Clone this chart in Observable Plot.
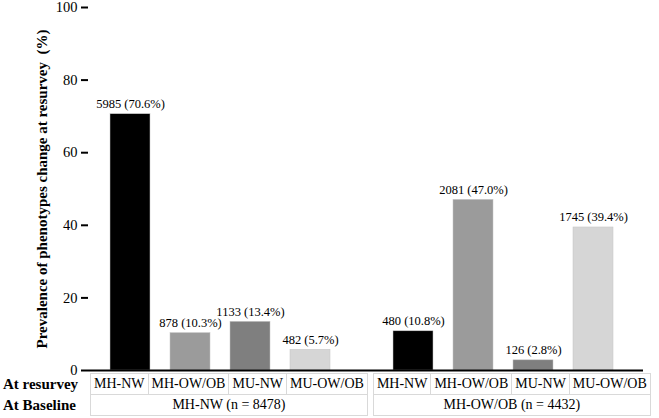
<!DOCTYPE html>
<html>
<head>
<meta charset="utf-8">
<script src="https://cdn.jsdelivr.net/npm/d3@7"></script>
<script src="https://cdn.jsdelivr.net/npm/@observablehq/plot@0.6"></script>
<style>
  html, body { margin: 0; padding: 0; background: #fff; }
  body { width: 659px; height: 418px; overflow: hidden; font-family: "Liberation Serif", "Times New Roman", serif; }
  #chart svg { display: block; }
  #chart svg text { font-family: "Liberation Serif", "Times New Roman", serif; }
  #chart svg [aria-label="y-axis label"] text { font-weight: bold; font-size: 15px; }
  table.tbl { border-collapse: collapse; margin-top: -5px; position: relative; font-family: "Liberation Serif", "Times New Roman", serif; color: #000; }
  table.tbl td { height: 20px; padding: 0 3px; font-size: 14px; text-align: center; border: 1px solid #d9d9d9; white-space: nowrap; line-height: 20px; }
  table.tbl td.lab { border: none; text-align: left; font-weight: bold; font-size: 15px; padding: 0 0 0 3px; width: 87px; }
  table.tbl td.gap { border: none; padding: 0; width: 5px; }
</style>
</head>
<body>
<div id="chart"></div>
<script>
// ---- data ----
const resurveyCats = ["MH-NW", "MH-OW/OB", "MU-NW", "MU-OW/OB"];
const baselineGroups = ["MH-NW", "MH-OW/OB"];
const baselineN = [8478, 4432];
const countsGroup1 = [5985, 878, 1133, 482];
const pctsGroup1 = [70.6, 10.3, 13.4, 5.7];
const countsGroup2 = [480, 2081, 126, 1745];
const pctsGroup2 = [10.8, 47.0, 2.8, 39.4];
const barColors = ["#000000", "#9b9b9b", "#7f7f7f", "#d6d6d6"];
const yTicks = [0, 20, 40, 60, 80, 100];
const yLabel = "Prevalence of phenotypes change at resurvey  (%)";
const rowLabels = ["At resurvey", "At Baseline"];

const allCounts = [countsGroup1, countsGroup2];
const allPcts = [pctsGroup1, pctsGroup2];
const rows = baselineGroups.flatMap((g, gi) => resurveyCats.map((c, ci) => ({
  group: g, cat: c, n: allCounts[gi][ci], pct: allPcts[gi][ci]
})));

const chart = Plot.plot({
  width: 659,
  height: 378,
  marginLeft: 88,
  marginRight: 5,
  marginTop: 7,
  marginBottom: 8,
  style: { fontFamily: "'Liberation Serif', 'Times New Roman', serif", fontSize: "14px", color: "#000", background: "transparent", overflow: "visible" },
  fx: { domain: baselineGroups, axis: null, paddingInner: 0, paddingOuter: 0 },
  x: { domain: resurveyCats, axis: null, paddingInner: 0.34, paddingOuter: 0.5025, align: 0.344 },
  y: { domain: [0, 100] },
  color: { domain: resurveyCats, range: barColors },
  marks: [
    Plot.barY(rows, { fx: "group", x: "cat", y: "pct", fill: "cat", stroke: "#c4c4c4", strokeWidth: 0.5 }),
    Plot.text(rows, { fx: "group", x: "cat", y: "pct", text: d => `${d.n} (${d.pct.toFixed(1)}%)`, dy: -10, fontSize: 12.5, fill: "#000" }),
    Plot.ruleY([baselineGroups[0]], { fx: d => d, y: 0, stroke: "#000", strokeWidth: 2 }),
    Plot.ruleY([baselineGroups[1]], { fx: d => d, y: 0, stroke: "#000", strokeWidth: 2, insetRight: 11 }),
    Plot.axisY({ ticks: yTicks, tickSize: 7, tickPadding: 4, strokeWidth: 2, line: true, label: yLabel, labelAnchor: "center", labelArrow: false, labelOffset: 52, fontSize: 14.5 })
  ]
});
document.getElementById("chart").appendChild(chart);

// ---- table below the chart ----
const table = d3.select("body").append("table").attr("class", "tbl");
const r1 = table.append("tr");
r1.append("td").attr("class", "lab").text(rowLabels[0]);
baselineGroups.forEach((g, gi) => {
  if (gi > 0) r1.append("td").attr("class", "gap");
  resurveyCats.forEach(c => r1.append("td").text(c));
});
const r2 = table.append("tr");
r2.append("td").attr("class", "lab").text(rowLabels[1]);
baselineGroups.forEach((g, gi) => {
  if (gi > 0) r2.append("td").attr("class", "gap");
  r2.append("td").attr("colspan", resurveyCats.length).text(`${g} (n = ${baselineN[gi]})`);
});
</script>
</body>
</html>
